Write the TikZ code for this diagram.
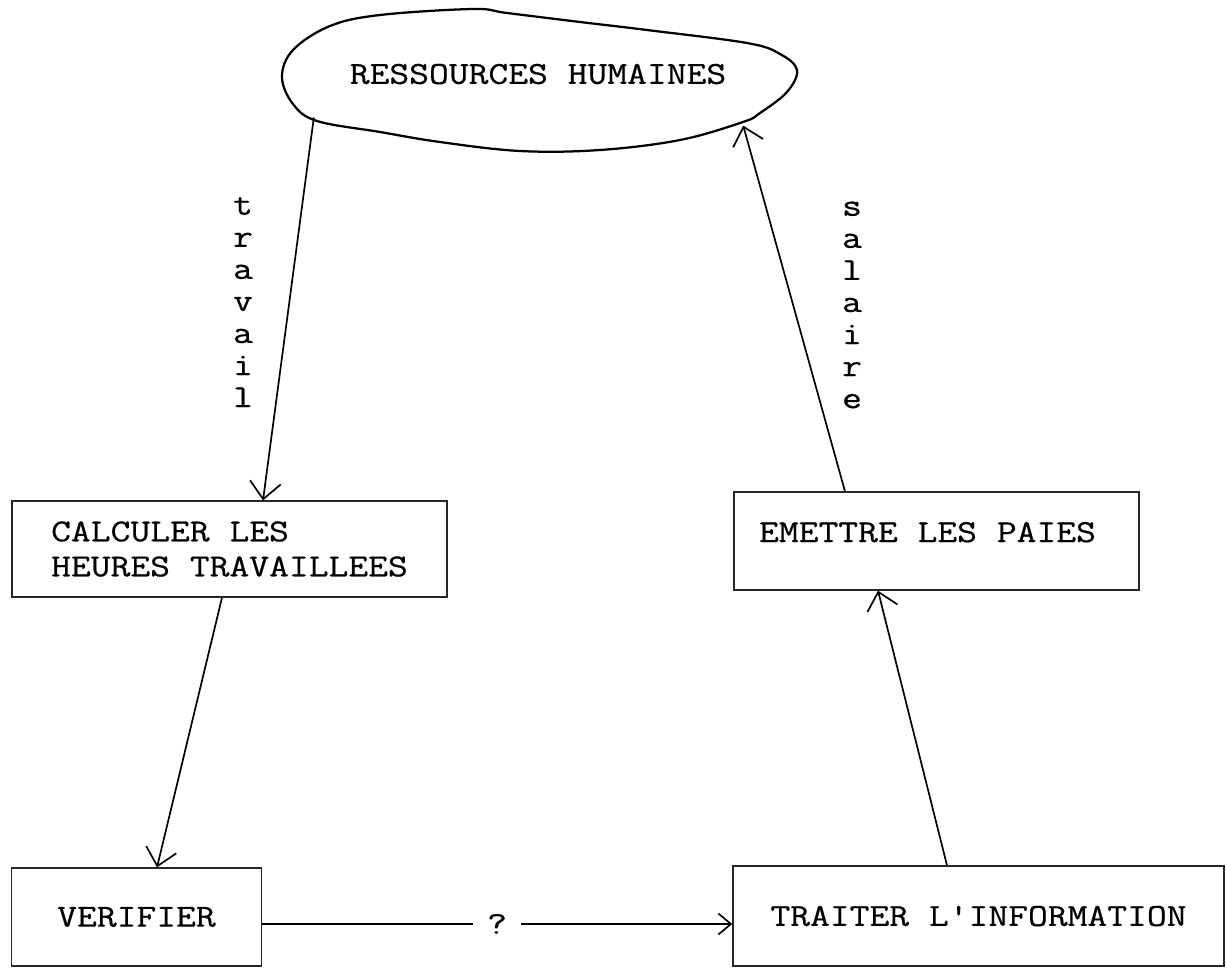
\documentclass[tikz,border=0pt]{standalone}
\usepackage{fontspec}
\setmonofont[FakeStretch=1.2,FakeBold=0.6]{Latin Modern Mono}
\usetikzlibrary{arrows.meta,calc,shapes.geometric}
\begin{document}
\begin{tikzpicture}[x=0.025cm,y=-0.025cm,
  every node/.style={font=\ttfamily\fontsize{22.8}{24.9}\selectfont},
  box/.style={draw=black!85,line width=0.9pt,rectangle,inner sep=0pt,align=left},
  flow/.style={line width=1.2pt,-{Straight Barb[length=12pt,width=22pt,line width=1.2pt]}},
  smallflow/.style={line width=1.2pt,-{Straight Barb[length=9pt,width=15pt,line width=1.2pt]}},
  vlabel/.style={align=center,inner sep=0pt,font=\ttfamily\fontsize{22.8}{22.8}\selectfont}]
\useasboundingbox (0,0) rectangle (1226,968);

% the hand-drawn ellipse and its invisible node for anchors
\node[draw=none,ellipse,minimum width=12.85cm,minimum height=3.6cm,inner sep=0pt] (rh) at (538,82) {};
\draw[line width=1.6pt] plot[smooth cycle,tension=0.6] coordinates {
  (282,77) (293,50) (330,26) (380,15) (473,9) (507,13) (580,22) (647,30)
  (747,43) (780,54) (797,70) (787,92) (760,113) (743,122) (680,140)
  (600,150) (520,151) (440,142) (380,132) (317,121) (293,104)};
\node (rhtext) at (538,74) {RESSOURCES HUMAINES};

% process boxes
\node[box,minimum width=10.875cm,minimum height=2.4cm] (hours) at (229.5,549) {CALCULER LES\\HEURES TRAVAILLEES};
\node[box,minimum width=10.125cm,minimum height=2.45cm,text depth=0.45cm] (pay) at (936.5,541) {EMETTRE LES PAIES\hspace{0.45cm}};
\node[box,minimum width=6.25cm,minimum height=2.45cm] (check) at (136.5,917) {VERIFIER};
\node[box,minimum width=12.275cm,minimum height=2.5cm] (proc) at (978.5,916) {TRAITER L'INFORMATION};
\node[inner sep=0pt,inner xsep=10pt] (q) at (497,924) {?};

% vertical flow labels
\node[vlabel] (work) at (243,302) {t\\r\\a\\v\\a\\i\\l};
\node[vlabel] (wage) at (852,305) {s\\a\\l\\a\\i\\r\\e};

% connectors
\draw[flow] (rh.189) -- ([xshift=0.8375cm]hours.north);
\draw[flow] ([xshift=-0.1875cm]hours.south) -- ([xshift=0.5125cm]check.north);
\draw[line width=1.2pt] (check.east |- q) -- (q.west);
\draw[smallflow] (q.east) -- (proc.west |- q);
\draw[flow] ([xshift=-0.7875cm]proc.north) -- ([xshift=-1.4625cm]pay.south);
\draw[flow] ([xshift=-2.2875cm]pay.north) -- (rh.348);
\end{tikzpicture}
\end{document}
